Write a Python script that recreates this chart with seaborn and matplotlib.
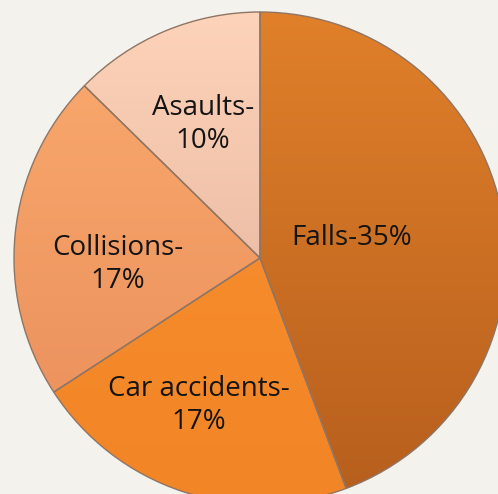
import numpy as np
import matplotlib
matplotlib.use("Agg")
import matplotlib.pyplot as plt
import matplotlib.colors as mcolors
import seaborn as sns

# données
labels = ["Falls", "Car accidents", "Collisions", "Asaults"]
values = [35, 17, 17, 10]
label_text = ["Falls-35%", "Car accidents-\n17%", "Collisions-\n17%", "Asaults-\n10%"]
# couleur haut / bas de chaque part (dégradé)
top_colors = ["#e0802a", "#fa9233", "#fbab6e", "#fdd3b9"]
bottom_colors = ["#b65e1d", "#f28526", "#e88c5a", "#dfab96"]
label_dist = [0.38, 0.65, 0.58, 0.59]
label_shift = [2.0, -4.3, 8.4, 0.3]  # degrés

sns.set_style("white")
plt.rcParams["font.family"] = ["Open Sans", "DejaVu Sans"]

bg = "#f4f2ed"
fig = plt.figure(figsize=(4.98, 4.94), dpi=100, facecolor=bg)
ax = fig.add_axes([14 / 498, -10 / 494, 492 / 498, 492 / 494])
ax.set_facecolor(bg)

wedges, _ = ax.pie(
    values,
    startangle=90,
    counterclock=False,
    radius=1,
    colors=top_colors,
    wedgeprops=dict(edgecolor="#8f7565", linewidth=1.0),
)

# dégradé vertical dans chaque part
grad = np.linspace(0, 1, 256).reshape(-1, 1)
for w, c1, c2 in zip(wedges, top_colors, bottom_colors):
    cmap = mcolors.LinearSegmentedColormap.from_list("g", [c1, c2])
    im = ax.imshow(grad, cmap=cmap, extent=(-1, 1, -1, 1), aspect="auto",
                   origin="upper", zorder=w.get_zorder() + 0.1)
    im.set_clip_path(w)
    w.set_facecolor("none")
    w.set_zorder(w.get_zorder() + 0.2)

# étiquettes
for w, txt, d, s in zip(wedges, label_text, label_dist, label_shift):
    ang = np.deg2rad((w.theta1 + w.theta2) / 2 + s)
    ax.text(d * np.cos(ang), d * np.sin(ang), txt, ha="center", va="center",
            fontsize=20, color="#141414", linespacing=1.25, zorder=10)

ax.set_xlim(-1, 1)
ax.set_ylim(-1, 1)
ax.set_aspect("equal")
ax.axis("off")

plt.savefig("out.png", dpi=100, facecolor=bg)
